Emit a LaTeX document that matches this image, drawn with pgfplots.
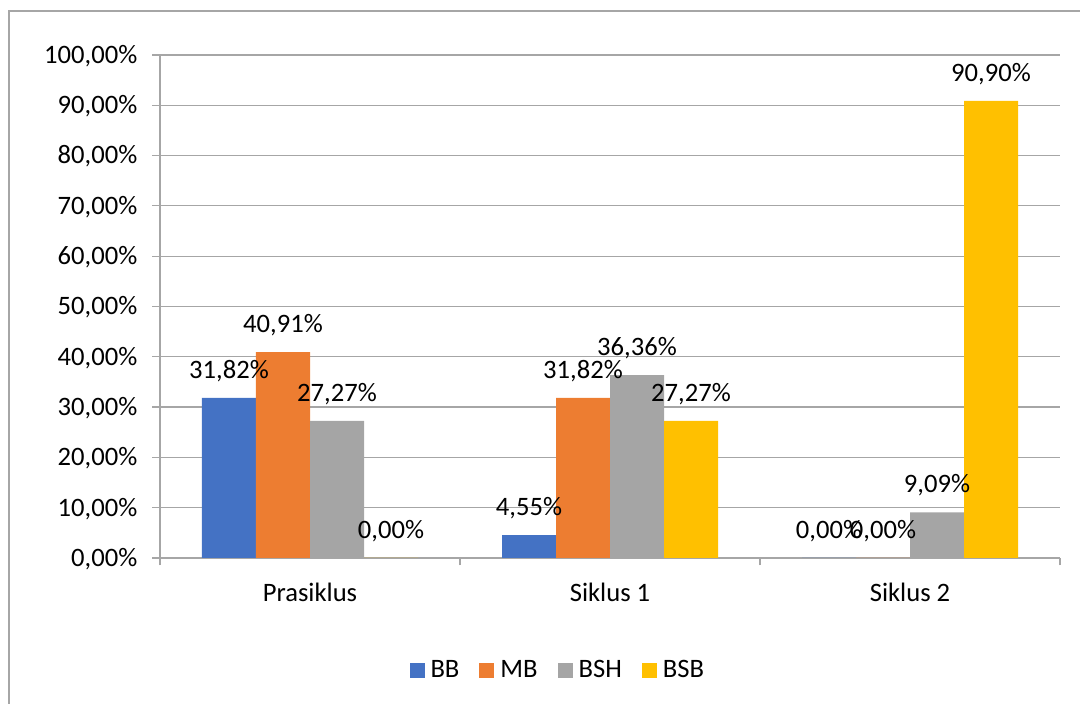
\documentclass[border=0pt]{standalone}
\usepackage{pgfplots}
\usepackage{pgfplotstable}
\pgfplotsset{compat=1.18}
\usepackage{fontspec}
\setmainfont{Carlito}

\definecolor{cBB}{HTML}{4472C4}
\definecolor{cMB}{HTML}{ED7D31}
\definecolor{cBSH}{HTML}{A5A5A5}
\definecolor{cBSB}{HTML}{FFC000}
\definecolor{linec}{HTML}{A6A6A6}

% Percentages per category (0 = Prasiklus, 1 = Siklus 1, 2 = Siklus 2)
\pgfplotstableread{
x BB MB BSH BSB
0 31.82 40.91 27.27 0.00
1 4.55 31.82 36.36 27.27
2 0.00 0.00 9.09 90.90
}\datatable

\begin{document}
\begin{tikzpicture}[font=\fontsize{26.6}{32}\selectfont]
% chart area frame
\draw[linec, line width=1.2pt] (9pt,693pt) rectangle (1130pt,-30pt);
\begin{axis}[
  at={(160pt,146pt)}, anchor=south west,
  scale only axis, width=900pt, height=503pt,
  ybar=0pt, bar width=54pt,
  xmin=-0.5, xmax=2.5, ymin=0, ymax=100,
  xtick={-0.5,0.5,1.5,2.5},
  x tick label as interval,
  xticklabels={Prasiklus, Siklus 1, Siklus 2},
  ytick={0,10,...,100},
  /pgf/number format/assume math mode=true,
  yticklabel={\pgfmathprintnumber[fixed,fixed zerofill,precision=2,use comma]{\tick}\%},
  axis lines*=left,
  axis line style={-, linec, line width=1.2pt},
  ymajorgrids, major grid style={linec, line width=1.2pt},
  tick align=outside, major tick length=7.5pt,
  tick style={linec, line width=1.2pt},
  yticklabel style={anchor=base east, inner sep=0pt, xshift=-15pt, yshift=-8.4pt},
  xticklabel style={anchor=base, inner sep=0pt, yshift=-36pt},
  nodes near coords={\pgfmathprintnumber[fixed,fixed zerofill,precision=2,use comma]{\pgfplotspointmeta}\%},
  every node near coord/.append style={anchor=base, inner sep=0pt, yshift=19.5pt, black},
  legend columns=4,
  legend style={at={(0.442,-0.2227)}, anchor=center, draw=none, fill=none,
    /tikz/every odd column/.append style={column sep=4pt},
    /tikz/every even column/.append style={column sep=18pt}},
  legend image code/.code={\fill[#1] (0pt,-7.5pt) rectangle (15pt,7.5pt);},
]
\addplot[fill=cBB, draw=none] table[x=x, y=BB] {\datatable};
\addplot[fill=cMB, draw=none] table[x=x, y=MB] {\datatable};
\addplot[fill=cBSH, draw=none] table[x=x, y=BSH] {\datatable};
\addplot[fill=cBSB, draw=none] table[x=x, y=BSB] {\datatable};
\legend{BB, MB, BSH, BSB}
\end{axis}
\pgfresetboundingbox
\path[use as bounding box] (0pt,0pt) rectangle (1080pt,704pt);
\end{tikzpicture}
\end{document}
